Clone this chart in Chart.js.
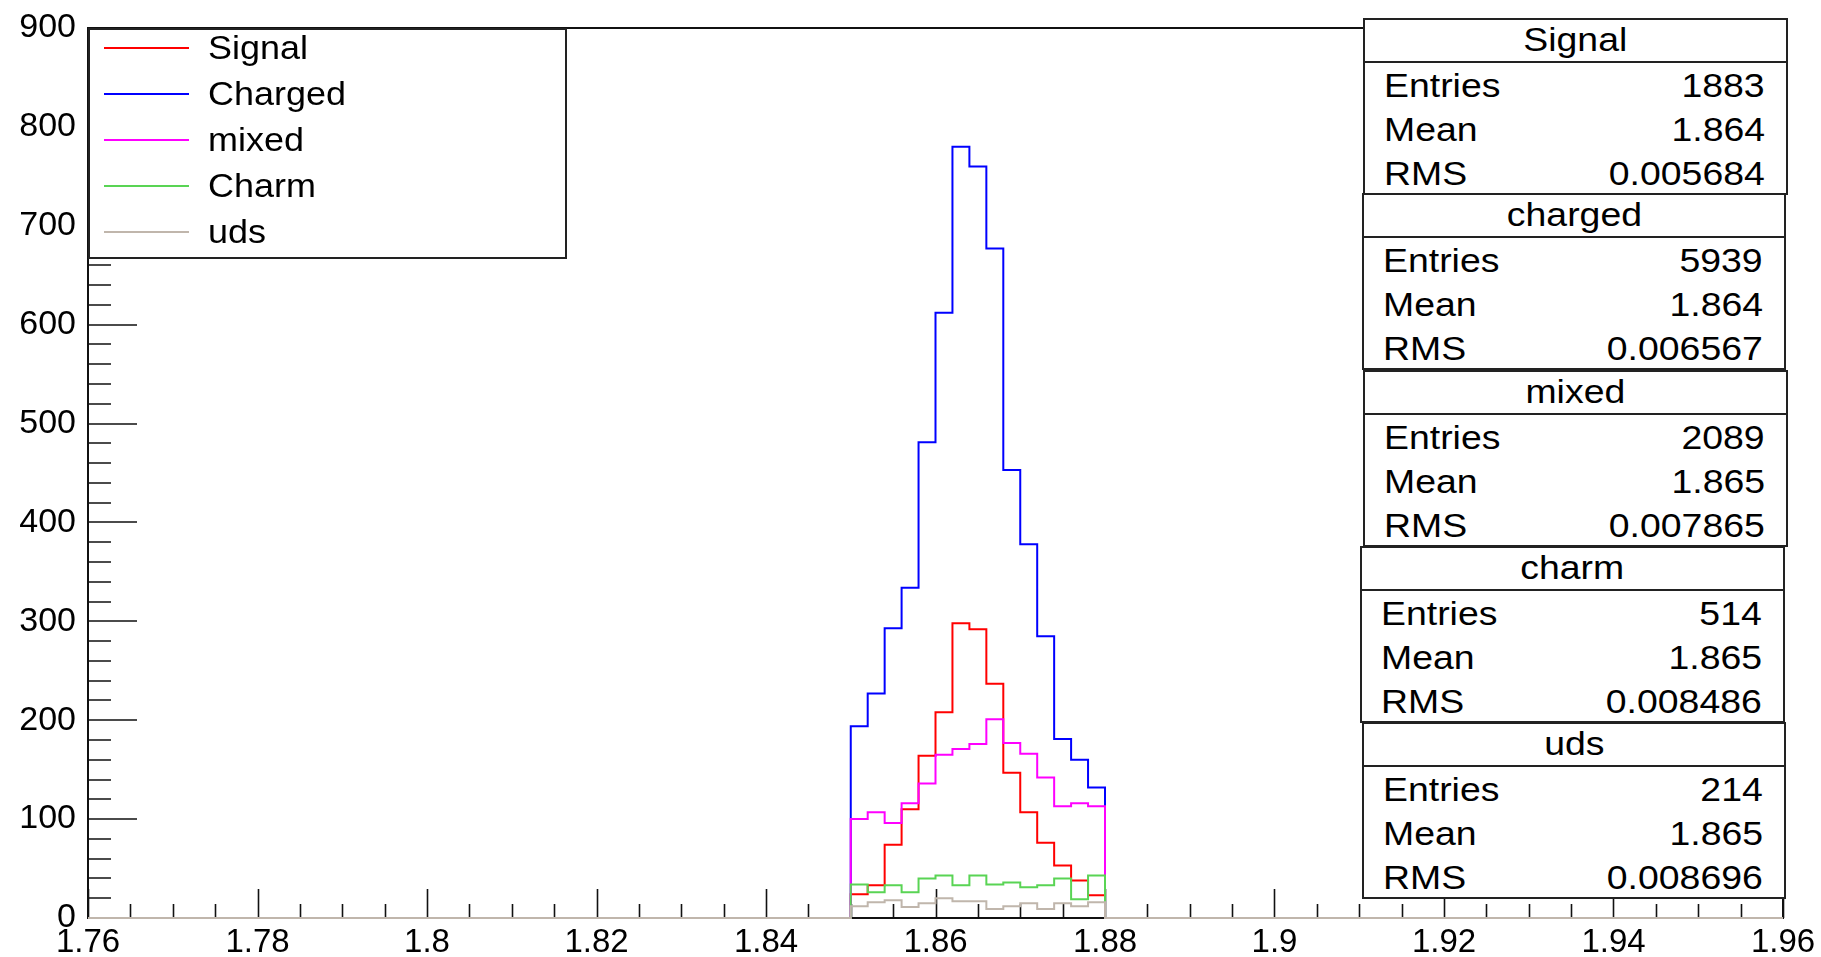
<!DOCTYPE html>
<html>
<head>
<meta charset="utf-8">
<title>D mass</title>
<script src="https://cdn.jsdelivr.net/npm/chart.js@4.4.1/dist/chart.umd.min.js"></script>
<style>
  body { margin: 0; background: #fff; font-family: 'Liberation Sans', Arial, sans-serif; color: #000; }
  #wrap { position: relative; width: 1821px; height: 957px; }
  #c { position: absolute; left: 0; top: 0; }
  .legend { position: absolute; left: 88px; top: 28px; width: 479px; height: 231px;
            border: 2px solid #222; box-sizing: border-box; background: #fff; }
  .legend .row { position: absolute; left: 0; height: 46px; width: 100%; }
  .legend .swatch { position: absolute; left: 14px; top: 22px; width: 85px; height: 2px; }
  .legend .txt { position: absolute; left: 118px; top: 0; line-height: 46px; font-size: 33px;
                 transform: scaleX(1.09); transform-origin: left center; }
  .stat { position: absolute; border: 2px solid #222; box-sizing: border-box; background: #fff;
          font-size: 34px; }
  .stat .title { height: 43px; border-bottom: 2px solid #222; box-sizing: border-box;
                 text-align: center; line-height: 38px; }
  .stat .title span { display: inline-block; transform: scaleX(1.1); }
  .stat .line { height: 44px; display: flex; align-items: center; justify-content: space-between;
                padding: 0 21px 0 19px; }
  .stat .line span { display: inline-block; transform: scaleX(1.1); }
  .stat .line span.k { transform-origin: left center; }
  .stat .line span.v { transform-origin: right center; }
</style>
</head>
<body>
<div id="wrap">
  <canvas id="c" width="1821" height="957"></canvas>
</div>
<script>
// ---- histogram data (bins of 0.002 between 1.85 and 1.88) ----
const xMin = 1.76;
const xMax = 1.96;
const binEdges = [1.850, 1.852, 1.854, 1.856, 1.858, 1.860, 1.862, 1.864,
                  1.866, 1.868, 1.870, 1.872, 1.874, 1.876, 1.878, 1.880];

const signalCounts  = [24, 33, 74, 110, 164, 208, 298, 292, 237, 147, 107, 76, 53, 38, 23];
const chargedCounts = [194, 227, 293, 334, 481, 612, 780, 760, 677, 453, 378, 285, 181, 160, 132];
const mixedCounts   = [100, 107, 96, 116, 136, 165, 171, 176, 201, 177, 166, 142, 113, 116, 113];
const charmCounts   = [34, 26, 33, 26, 40, 43, 33, 43, 34, 36, 31, 33, 40, 19, 43];
const udsCounts     = [12, 16, 18, 11, 15, 20, 17, 17, 9, 12, 15, 9, 15, 12, 16];

const legendLabels = ['Signal', 'Charged', 'mixed', 'Charm', 'uds'];
const lineColors   = ['#ff0000', '#0000ff', '#ff00ff', '#59d454', '#c0b6ac'];

// stats boxes
const statTitles  = ['Signal', 'charged', 'mixed', 'charm', 'uds'];
const statEntries = ['1883', '5939', '2089', '514', '214'];
const statMeans   = ['1.864', '1.864', '1.865', '1.865', '1.865'];
const statRms     = ['0.005684', '0.006567', '0.007865', '0.008486', '0.008696'];

const yTickLabels = [0, 100, 200, 300, 400, 500, 600, 700, 800, 900];
const xTickLabels = ['1.76', '1.78', '1.8', '1.82', '1.84', '1.86', '1.88', '1.9', '1.92', '1.94', '1.96'];

// build step outline: zero line over the whole axis, filled bins in the middle
function histPoints(values) {
    const pts = [{ x: xMin, y: 0 }];
    values.forEach((v, i) => pts.push({ x: binEdges[i], y: v }));
    pts.push({ x: binEdges[values.length], y: 0 });
    pts.push({ x: xMax, y: 0 });
    return pts;
}

const allCounts = [signalCounts, chargedCounts, mixedCounts, charmCounts, udsCounts];

// frame + inward ROOT style ticks
const frameTicks = {
    id: 'frameTicks',
    beforeDatasetsDraw(chart) {
        const { ctx, chartArea: a, scales: { x, y } } = chart;
        ctx.save();
        ctx.strokeStyle = '#111';
        ctx.lineWidth = 2;
        ctx.strokeRect(a.left, a.top, a.right - a.left, a.bottom - a.top);
        ctx.beginPath();
        for (let v = 0; v <= 900; v += 20) {
            const py = Math.round(y.getPixelForValue(v));
            const len = (v % 100 === 0) ? 49 : 23;
            ctx.moveTo(a.left, py);
            ctx.lineTo(a.left + len, py);
        }
        for (let k = 0; k <= 40; k++) {
            const px = Math.round(x.getPixelForValue(xMin + k * 0.005)) + 0.5;
            const len = (k % 4 === 0) ? 29 : 14;
            ctx.moveTo(px, a.bottom);
            ctx.lineTo(px, a.bottom - len);
        }
        ctx.lineWidth = 1.6;
        ctx.stroke();
        ctx.restore();
    }
};

const fontFamily = "'Liberation Sans', Arial, sans-serif";

new Chart(document.getElementById('c'), {
    type: 'line',
    data: {
        datasets: allCounts.map((counts, i) => ({
            label: legendLabels[i],
            data: histPoints(counts),
            borderColor: lineColors[i],
            borderWidth: 2,
            stepped: true,
            pointRadius: 0,
            fill: false,
            clip: false,
            order: allCounts.length - i
        }))
    },
    options: {
        responsive: false,
        animation: false,
        events: [],
        layout: { padding: { top: 28, right: 38, left: 0, bottom: 0 } },
        plugins: { legend: { display: false }, tooltip: { enabled: false } },
        scales: {
            x: {
                type: 'linear',
                min: xMin,
                max: xMax,
                grid: { display: false, drawTicks: false },
                border: { display: false },
                afterBuildTicks(s) {
                    s.ticks = xTickLabels.map(t => ({ value: parseFloat(t) }));
                },
                ticks: {
                    autoSkip: false,
                    maxRotation: 0,
                    padding: 5,
                    color: '#000',
                    font: { size: 33, family: fontFamily },
                    callback: v => xTickLabels.find(t => Math.abs(parseFloat(t) - v) < 1e-6) || ''
                },
                afterFit(s) { s.height = 39; s.paddingLeft = 0; s.paddingRight = 0; }
            },
            y: {
                min: 0,
                max: 900,
                grid: { display: false, drawTicks: false },
                border: { display: false },
                afterBuildTicks(s) {
                    s.ticks = yTickLabels.map(v => ({ value: v }));
                },
                ticks: {
                    padding: 12,
                    color: '#000',
                    font: { size: 34, family: fontFamily }
                },
                afterFit(s) { s.width = 88; s.paddingTop = 0; s.paddingBottom = 0; }
            }
        }
    },
    plugins: [frameTicks]
});

// legend box
const wrap = document.getElementById('wrap');
const legend = document.createElement('div');
legend.className = 'legend';
legendLabels.forEach((name, i) => {
    const row = document.createElement('div');
    row.className = 'row';
    row.style.top = (-5 + i * 46) + 'px';
    row.innerHTML = '<div class="swatch" style="background:' + lineColors[i] + '"></div>' +
                    '<div class="txt">' + name + '</div>';
    legend.appendChild(row);
});
wrap.appendChild(legend);

// stats boxes (left, top, width)
const statLayout = [
    [1363, 18, 425],
    [1362, 193, 424],
    [1363, 370, 425],
    [1360, 546, 425],
    [1362, 722, 424]
];
statTitles.forEach((t, i) => {
    const [l, tp, w] = statLayout[i];
    const box = document.createElement('div');
    box.className = 'stat';
    box.style.left = l + 'px';
    box.style.top = tp + 'px';
    box.style.width = w + 'px';
    box.style.height = '177px';
    const row = (k, v) => '<div class="line"><span class="k">' + k + '</span><span class="v">' + v + '</span></div>';
    box.innerHTML =
        '<div class="title"><span>' + t + '</span></div>' +
        row('Entries', statEntries[i]) + row('Mean', statMeans[i]) + row('RMS', statRms[i]);
    wrap.appendChild(box);
});
</script>
</body>
</html>
